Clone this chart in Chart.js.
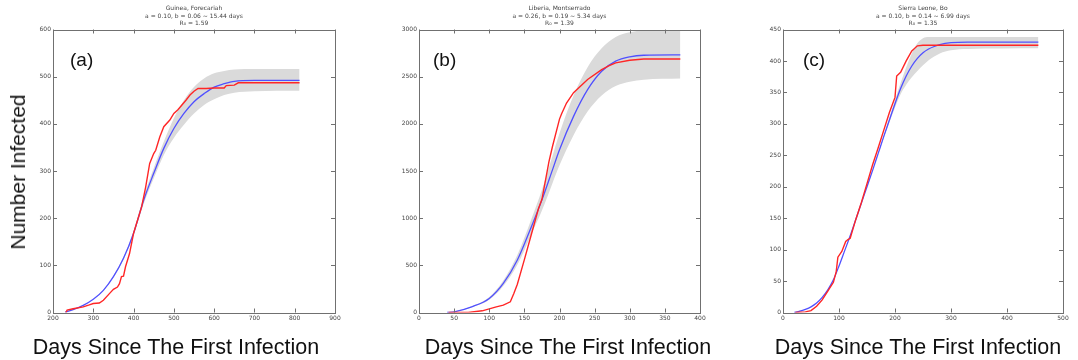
<!DOCTYPE html>
<html>
<head>
<meta charset="utf-8">
<script src="https://cdn.jsdelivr.net/npm/chart.js@4.4.1/dist/chart.umd.min.js"></script>
<style>
  body { margin: 0; background: #fff; width: 1078px; height: 360px; position: relative; overflow: hidden; font-family: "Liberation Sans", Arial, sans-serif; }
  canvas { position: absolute; top: 0; }
  .xl { position: absolute; top: 334px; font-size: 21.5px; line-height: 26px; white-space: nowrap; transform: translateX(-50%); color: #111; }
  .yl { position: absolute; left: 18px; top: 172px; font-size: 21px; line-height: 24px; white-space: nowrap; transform: translate(-50%, -50%) rotate(-90deg); color: #111; }
</style>
</head>
<body>
<canvas id="pa" width="355" height="360" style="left:0px"></canvas>
<canvas id="pb" width="355" height="360" style="left:360px"></canvas>
<canvas id="pc" width="358" height="360" style="left:720px"></canvas>
<div class="yl">Number Infected</div>
<div class="xl" style="left:176px">Days Since The First Infection</div>
<div class="xl" style="left:568px">Days Since The First Infection</div>
<div class="xl" style="left:918px">Days Since The First Infection</div>
<script>
// ---- panel (a) Guinea, Forecariah ----
var aTitle = ["Guinea, Forecariah", "a = 0.10, b = 0.06 ~ 15.44 days", "R\u2080 = 1.59"];
var aXTicks = [200, 300, 400, 500, 600, 700, 800, 900];
var aYTicks = [0, 100, 200, 300, 400, 500, 600];
var aRedX = [232,235,250,275,290,300,315,325,340,350,360,365,370,375,380,390,400,410,420,430,440,450,455,465,475,490,500,510,520,530,540,550,560,580,600,625,630,650,660,700,812];
var aRedY = [0,5,8,12,16,19,20,26,40,49,54,61,76,77,97,125,168,196,224,266,316,337,344,372,394,408,422,430,440,450,461,469,475,475,476,476,481,482,487,487,487];
var aFitX = [230,250,275,300,325,350,375,400,425,450,475,500,525,550,575,600,625,650,700,812];
var aFitY = [1,6,15,28,47,76,115,168,238,295,348,390,422,447,464,478,485,490,492,492];
var aHi   = [1,6,15,28,48,78,118,173,246,306,362,412,450,478,496,507,512,515,516,516];
var aLo   = [1,6,15,28,46,74,112,163,230,284,334,370,398,422,440,452,461,466,469,470];

// ---- panel (b) Liberia, Montserrado ----
var bTitle = ["Liberia, Montserrado", "a = 0.26, b = 0.19 ~ 5.34 days", "R\u2080 = 1.39"];
var bXTicks = [0, 50, 100, 150, 200, 250, 300, 350, 400];
var bYTicks = [0, 500, 1000, 1500, 2000, 2500, 3000];
var bRedX = [42,70,90,100,110,120,130,135,140,150,160,170,175,185,190,200,203,210,220,240,260,270,280,300,320,372];
var bRedY = [0,0,18,39,60,78,113,202,300,560,830,1100,1200,1600,1760,2050,2107,2221,2330,2470,2575,2615,2646,2674,2688,2688];
var bFitX = [40,50,75,100,120,140,160,175,190,200,220,240,260,280,300,320,372];
var bFitY = [0,7,60,149,308,556,910,1194,1512,1725,2079,2362,2557,2664,2710,2727,2731];
var bHi   = [0,8,65,165,340,610,990,1300,1660,1900,2300,2600,2800,2920,2970,2990,2995];
var bLo   = [0,6,55,135,280,505,830,1080,1370,1560,1880,2130,2300,2400,2445,2468,2480];

// ---- panel (c) Sierra Leone, Bo ----
var cTitle = ["Sierra Leone, Bo", "a = 0.10, b = 0.14 ~ 6.99 days", "R\u2080 = 1.35"];
var cXTicks = [0, 100, 200, 300, 400, 500];
var cYTicks = [0, 50, 100, 150, 200, 250, 300, 350, 400, 450];
var cRedX = [22,40,50,60,70,80,90,95,98,105,112,116,120,130,140,150,160,170,180,190,200,203,210,220,230,240,250,456];
var cRedY = [0,1,3,10,20,34,48,65,88,97,113,116,118,148,175,205,235,262,290,318,342,376,382,400,416,424,425,425];
var cFitX = [20,30,40,50,60,70,80,90,100,110,120,130,140,150,160,170,180,190,200,210,220,230,240,250,260,270,280,300,330,456];
var cFitY = [0,2,5,9,15,24,36,52,74,98,122,148,174,200,226,253,280,306,332,356,376,392,404,413,419,423,426,429,430,430];
var cHi   = [0,2,5,9,15,24,36,52,74,98,122,148,174,200,226,253,282,310,338,365,390,412,428,436,438,438,438,438,438,438];
var cLo   = [0,2,5,9,15,24,36,52,74,98,122,148,174,200,226,253,278,302,326,347,362,374,384,393,401,407,412,417,419,420];

var RED = "#ff2626", BLUE = "#5050ff", GRAY = "#dadada";

function pts(xs, ys) {
  return xs.map(function (x, i) { return { x: x, y: ys[i] }; });
}

// matplotlib-like frame with inward ticks, plus the panel letter
var framePlugin = {
  id: "frame",
  afterDraw: function (chart) {
    var a = chart.chartArea, c = chart.ctx;
    var sx = chart.scales.x, sy = chart.scales.y;
    var o = chart.options.plugins.frame;
    c.save();
    c.strokeStyle = "#707070";
    c.lineWidth = 1;
    c.beginPath();
    sx.ticks.forEach(function (t) {
      var px = Math.round(sx.getPixelForValue(t.value)) + 0.5;
      c.moveTo(px, a.bottom); c.lineTo(px, a.bottom - 4);
      c.moveTo(px, a.top); c.lineTo(px, a.top + 4);
    });
    sy.ticks.forEach(function (t) {
      var py = Math.round(sy.getPixelForValue(t.value)) + 0.5;
      c.moveTo(a.left, py); c.lineTo(a.left + 4, py);
      c.moveTo(a.right, py); c.lineTo(a.right - 4, py);
    });
    c.stroke();
    c.strokeRect(Math.round(a.left) + 0.5, Math.round(a.top) + 0.5, Math.round(a.right - a.left), Math.round(a.bottom - a.top));
    c.fillStyle = "#111";
    c.font = '19px "Liberation Sans", Arial, sans-serif';
    c.textBaseline = "alphabetic";
    c.fillText(o.label, a.left + o.dx, a.top + 36);
    c.restore();
  }
};

function plain(v) { return String(v); }

function makeChart(id, p) {
  return new Chart(document.getElementById(id), {
    type: "line",
    data: {
      datasets: [
        { data: pts(p.redX, p.redY), borderColor: RED, borderWidth: 1.4, pointRadius: 0, fill: false, tension: 0 },
        { data: pts(p.fitX, p.fitY), borderColor: BLUE, borderWidth: 1.3, pointRadius: 0, fill: false, cubicInterpolationMode: "monotone" },
        { data: pts(p.fitX, p.hi), borderColor: "rgba(0,0,0,0)", pointRadius: 0, backgroundColor: GRAY, fill: "+1", cubicInterpolationMode: "monotone" },
        { data: pts(p.fitX, p.lo), borderColor: "rgba(0,0,0,0)", pointRadius: 0, fill: false, cubicInterpolationMode: "monotone" }
      ]
    },
    options: {
      responsive: false,
      animation: false,
      events: [],
      layout: { padding: { left: 0, right: p.padRight, top: 0, bottom: 0 } },
      plugins: {
        legend: { display: false },
        tooltip: { enabled: false },
        title: {
          display: true, text: p.title, fullSize: false, color: "#444",
          font: { size: 6, family: "DejaVu Sans", weight: "normal", lineHeight: 1.25 },
          padding: { top: 5, bottom: 2 }
        },
        frame: { label: p.label, dx: p.labelDx }
      },
      scales: {
        x: {
          type: "linear", min: p.xTicks[0], max: p.xTicks[p.xTicks.length - 1],
          grid: { display: false, drawTicks: false },
          border: { display: false },
          afterBuildTicks: function (s) { s.ticks = p.xTicks.map(function (v) { return { value: v }; }); },
          afterFit: function (s) { s.height = 47.5; },
          ticks: { color: "#444", font: { size: 6, family: "DejaVu Sans" }, padding: 2, maxRotation: 0, autoSkip: false, callback: plain }
        },
        y: {
          type: "linear", min: p.yTicks[0], max: p.yTicks[p.yTicks.length - 1],
          grid: { display: false, drawTicks: false },
          border: { display: false },
          afterBuildTicks: function (s) { s.ticks = p.yTicks.map(function (v) { return { value: v }; }); },
          afterFit: function (s) { s.width = p.yWidth; },
          ticks: { color: "#444", font: { size: 6, family: "DejaVu Sans" }, padding: 2, autoSkip: false, callback: plain }
        }
      }
    },
    plugins: [framePlugin]
  });
}

makeChart("pa", { title: aTitle, xTicks: aXTicks, yTicks: aYTicks, redX: aRedX, redY: aRedY, fitX: aFitX, fitY: aFitY, hi: aHi, lo: aLo, label: "(a)", labelDx: 17, yWidth: 53, padRight: 20 });
makeChart("pb", { title: bTitle, xTicks: bXTicks, yTicks: bYTicks, redX: bRedX, redY: bRedY, fitX: bFitX, fitY: bFitY, hi: bHi, lo: bLo, label: "(b)", labelDx: 14, yWidth: 59, padRight: 15 });
makeChart("pc", { title: cTitle, xTicks: cXTicks, yTicks: cYTicks, redX: cRedX, redY: cRedY, fitX: cFitX, fitY: cFitY, hi: cHi, lo: cLo, label: "(c)", labelDx: 20, yWidth: 63, padRight: 15 });
</script>
</body>
</html>
